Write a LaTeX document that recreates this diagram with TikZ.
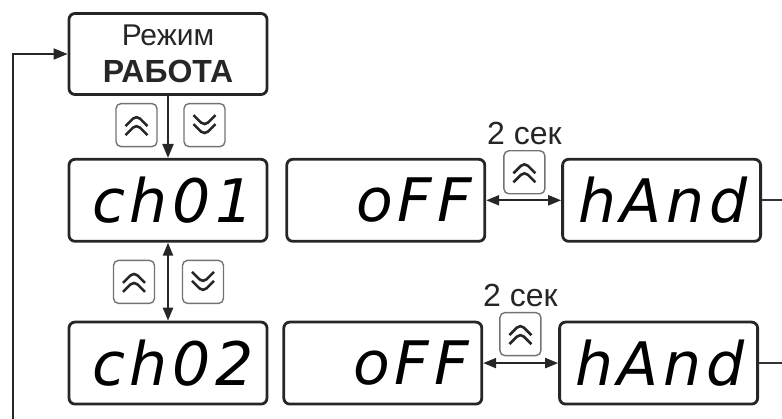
\documentclass[tikz,border=0pt]{standalone}
\usepackage{fontspec}
\setmainfont{Liberation Sans}
\newfontfamily\segfont[LetterSpace=8]{DejaVu Sans}
\usepackage{tikz}
\usetikzlibrary{arrows.meta, positioning}

\begin{document}
\begin{tikzpicture}[
                x=1pt, y=1pt,
                modebox/.style={rectangle, rounded corners=6pt, draw=black!85, line width=2.8pt, minimum width=198pt, minimum height=81pt, align=center, text=black!85, font=\fontsize{30}{37}\selectfont},
                display/.style={rectangle, rounded corners=6pt, draw=black!85, line width=2.8pt, minimum width=198pt, minimum height=82pt, text width=172pt, inner xsep=13pt, inner ysep=0pt, align=right, font=\segfont\itshape\fontsize{60}{68}\selectfont},
                key/.style={rectangle, rounded corners=5pt, draw=black!55, line width=1.4pt, minimum width=41pt, minimum height=43pt, inner sep=0pt},
                chev/.style={draw=black!85, line width=2.6pt},
                keyup/.style={key, path picture={
                    \draw[chev] ([shift={(-11,-1)}]path picture bounding box.center) -- ++(11,11) -- ++(11,-11);
                    \draw[chev] ([shift={(-11,-10)}]path picture bounding box.center) -- ++(11,11) -- ++(11,-11);}},
                keydown/.style={key, path picture={
                    \draw[chev] ([shift={(-11,1)}]path picture bounding box.center) -- ++(11,-11) -- ++(11,11);
                    \draw[chev] ([shift={(-11,10)}]path picture bounding box.center) -- ++(11,-11) -- ++(11,11);}},
                delay/.style={inner sep=0pt, text=black!85, font=\fontsize{32}{36}\selectfont},
                arr/.style={-{Triangle[length=14pt, width=11pt]}, draw=black!85, line width=2.2pt},
                dblarr/.style={{Triangle[length=13pt, width=10pt]}-{Triangle[length=13pt, width=10pt]}, draw=black!85, line width=2.2pt},
                wire/.style={draw=black!80, line width=1.8pt}
            ]
                \useasboundingbox (0,0) rectangle (782,-419);

                % Mode and channels
                \node[modebox] (mode) at (168,-54) {Режим\\\textbf{\fontsize{32}{37}\selectfont РАБОТА}};
                \node[display, below=62pt of mode] (ch1) {ch01};
                \node[display, below=78pt of ch1] (ch2) {ch02};

                % Channel states
                \node[display, right=17pt of ch1] (off1) {oFF};
                \node[display, right=75pt of off1] (hand1) {hAnd};
                \node[display, right=14pt of ch2] (off2) {oFF};
                \node[display, right=75pt of off2] (hand2) {hAnd};

                % Keys
                \node[keyup, below=7pt of mode, xshift=-31.5pt] (up1) {};
                \node[keydown, below=7pt of mode, xshift=36.5pt] (dn1) {};
                \node[keyup, below=17pt of ch1, xshift=-34pt] (up2) {};
                \node[keydown, below=17pt of ch1, xshift=35pt] (dn2) {};
                \node[keyup, right=17pt of off1, yshift=28pt] (hold1) {};
                \node[keyup, right=16pt of off2, yshift=29pt] (hold2) {};
                \node[delay, above=5pt of hold1] (t1) {2 сек};
                \node[delay, above=5pt of hold2] (t2) {2 сек};

                % Edges
                \coordinate (loop) at (13,-419);
                \coordinate (edge) at (782,0);
                \draw[arr] (mode) -- (ch1);
                \draw[dblarr] (ch1) -- (ch2);
                \draw[dblarr] (off1) -- (hand1);
                \draw[dblarr] (off2) -- (hand2);
                \draw[wire] (hand1.east) -- (hand1.east -| edge);
                \draw[wire] (hand2.east) -- (hand2.east -| edge);
                \draw[arr, line width=1.8pt] (loop) |- (mode.west);
            \end{tikzpicture}
\end{document}
